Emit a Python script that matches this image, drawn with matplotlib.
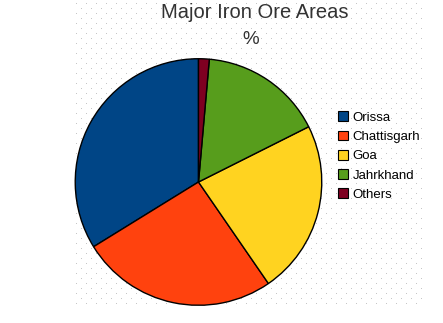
import numpy as np
import matplotlib
matplotlib.use("Agg")
import matplotlib.pyplot as plt
from matplotlib.patches import Patch

plt.rcParams['font.family'] = ['Liberation Sans', 'DejaVu Sans']

# data (percent)
areas = ["Orissa", "Chattisgarh", "Goa", "Jahrkhand", "Others"]
shares = [33.8, 25.8, 22.8, 16.2, 1.4]
colors = ["#004586", "#ff420e", "#ffd320", "#579d1c", "#7e0021"]

W, H = 443, 323
fig = plt.figure(figsize=(W / 100, H / 100), dpi=100)
fig.patch.set_facecolor("white")

# staggered grey dot texture behind the chart, one pixel per dot
tex = np.ones((H, W, 3))
for i, y in enumerate(range(3, 306, 5)):
    off = 0 if i % 2 == 0 else 5
    for x in range(76 + off, 422, 10):
        tex[y, x] = 0.78
fig.figimage(tex, 0, 0, zorder=-10)

bg = fig.add_axes([0, 0, 1, 1])
bg.set_xlim(0, W)
bg.set_ylim(H, 0)
bg.axis("off")
bg.text(255, 13, "Major Iron Ore Areas", fontsize=14.5, ha="center", va="center", color="#333333")
bg.text(251, 40, "%", fontsize=13.5, ha="center", va="center", color="#333333")

# pie
cx, cy, r = 198.5, 182, 124.5
ax = fig.add_axes([(cx - r) / W, (H - cy - r) / H, 2 * r / W, 2 * r / H])
ax.pie(shares, colors=colors, startangle=90, counterclock=True,
       wedgeprops=dict(edgecolor="black", linewidth=1.0))
ax.set_xlim(-1.01, 1.01)
ax.set_ylim(-1.01, 1.01)
ax.set_aspect("equal")
ax.axis("off")

handles = [Patch(facecolor=c, edgecolor="black", linewidth=0.8) for c in colors]
fig.legend(handles, areas, loc="upper left", bbox_to_anchor=(333 / W, 1 - 106 / H),
           frameon=False, fontsize=9.5, handlelength=0.75, handleheight=0.75,
           handletextpad=0.35, labelspacing=0.52, borderaxespad=0)

fig.savefig("out.png", dpi=100)
